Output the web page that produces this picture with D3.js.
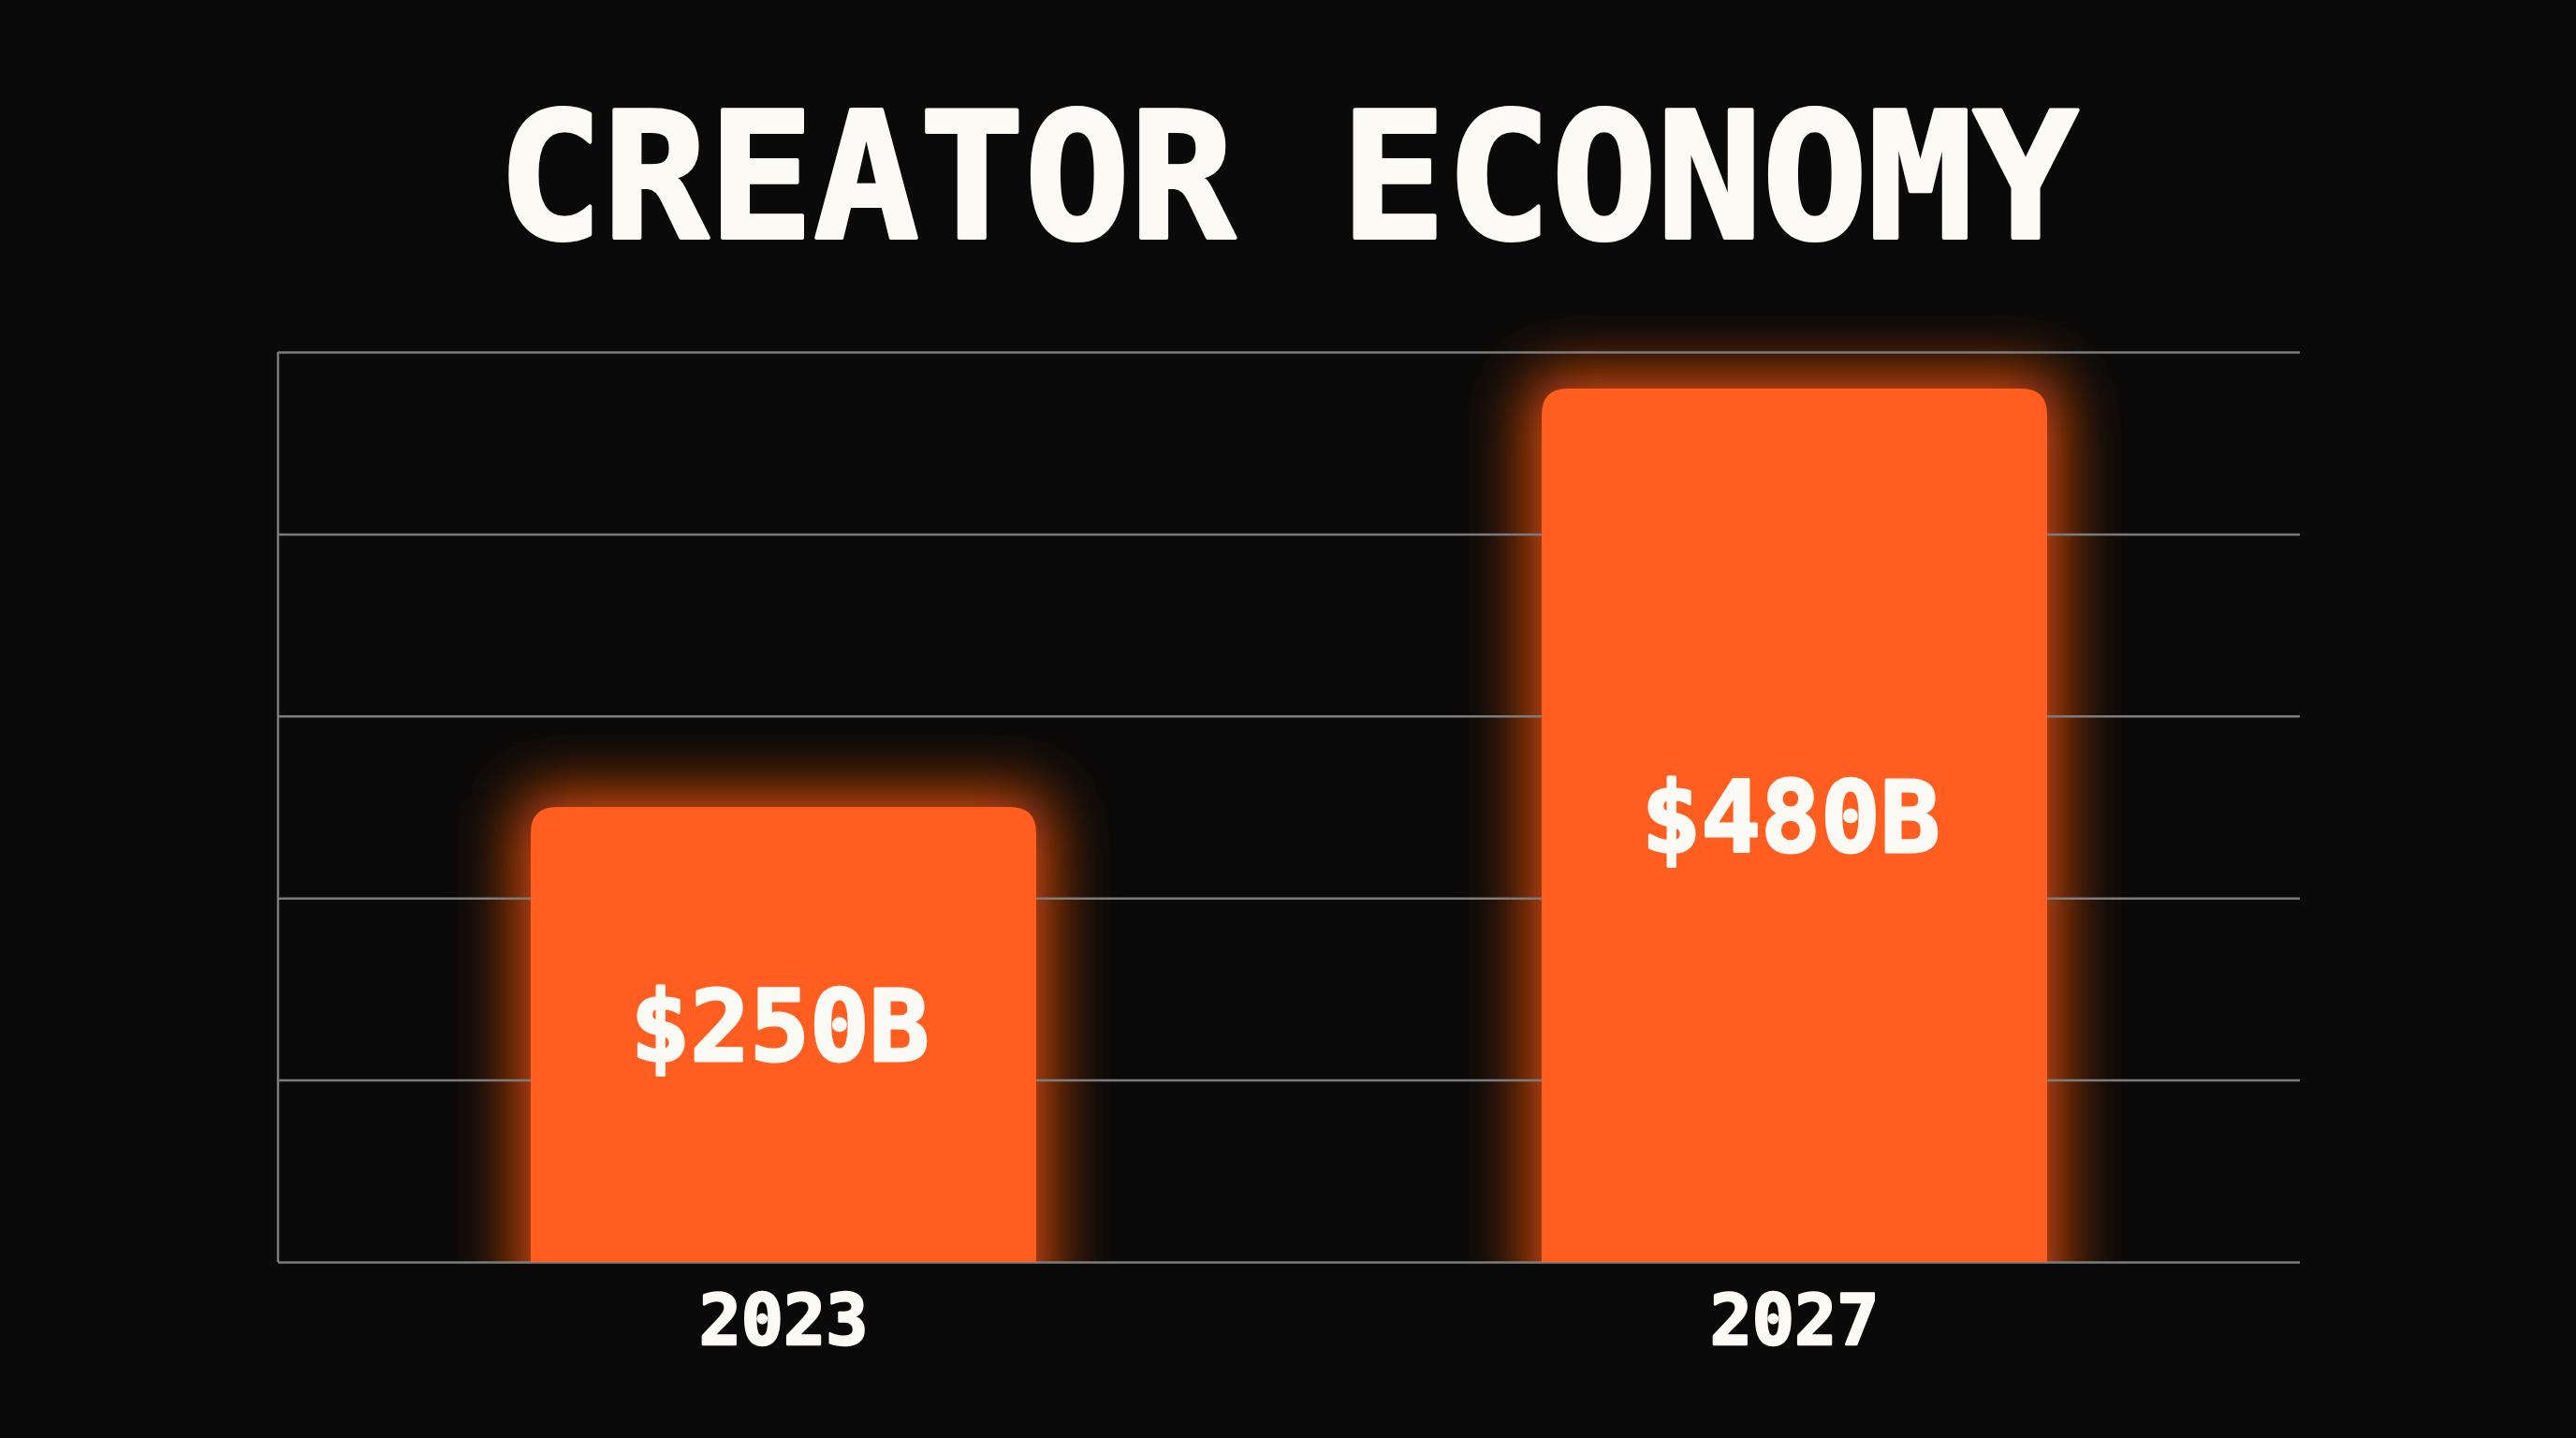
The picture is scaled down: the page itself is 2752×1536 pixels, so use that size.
<!DOCTYPE html>
<html>
<head>
<meta charset="utf-8">
<script src="https://cdn.jsdelivr.net/npm/d3@7"></script>
<style>
  html, body { margin: 0; padding: 0; background: #0a0a0a; }
  svg { display: block; }
</style>
</head>
<body>
<svg id="chart" width="2752" height="1536"></svg>
<script>
const years = ["2023", "2027"];
const values = [250, 480];
const valueLabels = ["$250B", "$480B"];
const yTicks = [0, 100, 200, 300, 400, 500];
const title = "CREATOR ECONOMY";

const width = 2752, height = 1536;
const margin = { top: 376, right: 295, bottom: 188, left: 297 };
const font = "'DejaVu Sans Mono', 'Liberation Mono', monospace";
const barColor = "#ff5e20";
const textColor = "#fcfaf5";

const svg = d3.select("#chart");

svg.append("rect")
    .attr("width", width)
    .attr("height", height)
    .attr("fill", "#0a0a0a");

const x = d3.scaleBand()
    .domain(years)
    .range([margin.left, width - margin.right])
    .paddingInner(0.5)
    .paddingOuter(0.25);

const y = d3.scaleLinear()
    .domain([0, 500])
    .range([height - margin.bottom, margin.top]);

// glow filter for the bars, clipped at the baseline
const defs = svg.append("defs");
defs.append("filter")
    .attr("id", "glow")
    .attr("x", "-50%").attr("y", "-50%")
    .attr("width", "200%").attr("height", "200%")
    .append("feGaussianBlur")
    .attr("stdDeviation", 34);
defs.append("clipPath")
    .attr("id", "aboveAxis")
    .append("rect")
    .attr("x", 0).attr("y", 0)
    .attr("width", width).attr("height", y(0));

const data = years.map((yr, i) => ({ year: yr, value: values[i], label: valueLabels[i] }));

// rect with only the top corners rounded
function topRounded(x0, y0, w, h, r) {
    return `M${x0},${y0 + h}V${y0 + r}Q${x0},${y0} ${x0 + r},${y0}` +
        `H${x0 + w - r}Q${x0 + w},${y0} ${x0 + w},${y0 + r}V${y0 + h}Z`;
}

// glow layer under the grid
svg.append("g")
    .attr("clip-path", "url(#aboveAxis)")
    .append("g")
    .attr("filter", "url(#glow)")
    .attr("opacity", 0.95)
    .selectAll("path")
    .data(data)
    .join("path")
    .attr("d", d => topRounded(x(d.year) - 14, y(d.value) - 14, x.bandwidth() + 28, y(0) - y(d.value) + 80, 30))
    .attr("fill", "#f25410");

// gridlines
const grid = svg.append("g")
    .attr("transform", `translate(${margin.left},0)`)
    .call(d3.axisLeft(y).tickValues(yTicks).tickSize(-(width - margin.left - margin.right)).tickFormat(""));
grid.select(".domain").remove();
grid.selectAll(".tick line")
    .attr("stroke", "#7c7c7c")
    .attr("stroke-width", 2.5);

// left axis line
svg.append("line")
    .attr("x1", margin.left).attr("x2", margin.left)
    .attr("y1", y(500)).attr("y2", y(0))
    .attr("stroke", "#7c7c7c")
    .attr("stroke-width", 2.5);

// bars
svg.append("g")
    .selectAll("path")
    .data(data)
    .join("path")
    .attr("d", d => topRounded(x(d.year), y(d.value), x.bandwidth(), y(0) - y(d.value), 28))
    .attr("fill", barColor);

// value labels inside bars
svg.append("g")
    .selectAll("text")
    .data(data)
    .join("text")
    .attr("x", d => x(d.year) + x.bandwidth() / 2 - 4)
    .attr("y", d => (y(d.value) + y(0)) / 2 - 10)
    .attr("dy", "0.36em")
    .attr("text-anchor", "middle")
    .attr("font-family", font)
    .attr("font-weight", "bold")
    .attr("font-size", 106)
    .attr("fill", textColor)
    .attr("stroke", textColor)
    .attr("stroke-width", 3)
    .attr("stroke-linejoin", "round")
    .text(d => d.label);

// year labels
svg.append("g")
    .selectAll("text")
    .data(data)
    .join("text")
    .attr("x", d => x(d.year) + x.bandwidth() / 2)
    .attr("y", 1436)
    .attr("text-anchor", "middle")
    .attr("font-family", font)
    .attr("font-weight", "bold")
    .attr("font-size", 75)
    .attr("fill", textColor)
    .attr("stroke", textColor)
    .attr("stroke-width", 2.5)
    .attr("stroke-linejoin", "round")
    .text(d => d.year);

// title
svg.append("text")
    .attr("x", width / 2)
    .attr("y", 254)
    .attr("text-anchor", "middle")
    .attr("font-family", font)
    .attr("font-weight", "bold")
    .attr("font-size", 187)
    .attr("fill", textColor)
    .attr("stroke", textColor)
    .attr("stroke-width", 4)
    .attr("stroke-linejoin", "round")
    .text(title);
</script>
</body>
</html>
